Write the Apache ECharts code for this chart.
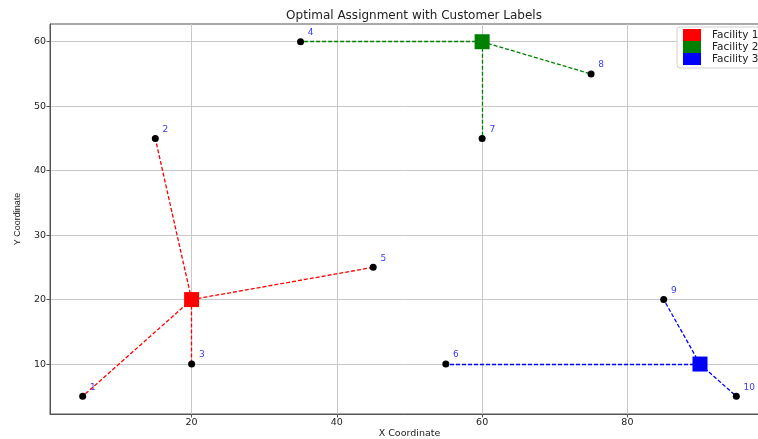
<!DOCTYPE html>
<html>
<head>
<meta charset="utf-8">
<script src="https://cdn.jsdelivr.net/npm/echarts@6/dist/echarts.min.js"></script>
<style>html,body{margin:0;padding:0;background:#fff}#chart{width:758px;height:439px}</style>
</head>
<body>
<div id="chart"></div>
<script>
const customerIds = [1, 2, 3, 4, 5, 6, 7, 8, 9, 10];
const customerX = [5, 15, 20, 35, 45, 55, 60, 75, 85, 95];
const customerY = [5, 45, 10, 60, 25, 10, 45, 55, 20, 5];
const facilityNames = ['Facility 1', 'Facility 2', 'Facility 3'];
const facilityX = [20, 60, 90];
const facilityY = [20, 60, 10];
const assignment = [0, 0, 0, 1, 0, 2, 1, 1, 2, 2];
const facilityColors = ['#ff0000', '#008000', '#0000ff'];
const xTicks = [20, 40, 60, 80];
const yTicks = [10, 20, 30, 40, 50, 60];

const FONT = 'DejaVu Sans';
const chart = echarts.init(document.getElementById('chart'), null, {renderer: 'canvas'});

const series = [];
series.push({
  name: 'Labels', type: 'scatter', z: 1, symbolSize: 0, silent: true,
  data: customerIds.map((id, i) => [customerX[i] + 1, customerY[i] + 1, id]),
  label: {
    show: true, position: [0, 0], align: 'left', verticalAlign: 'bottom', offset: [0, 2],
    formatter: p => String(p.value[2]), color: '#0000ff', fontSize: 9, fontFamily: FONT
  }
});
facilityNames.forEach((name, f) => {
  const segs = [];
  customerIds.forEach((id, i) => {
    if (assignment[i] === f) segs.push({coords: [[facilityX[f], facilityY[f]], [customerX[i], customerY[i]]]});
  });
  series.push({
    name: name + ' links', type: 'lines', coordinateSystem: 'cartesian2d', z: 2,
    data: segs, silent: true,
    lineStyle: {color: facilityColors[f], width: 1.3, type: [4, 2], opacity: 1, curveness: 0}
  });
});
series.push({
  name: 'Customers', type: 'scatter', z: 3, symbol: 'circle', symbolSize: 7,
  itemStyle: {color: '#000', opacity: 1},
  data: customerIds.map((id, i) => [customerX[i], customerY[i]])
});
facilityNames.forEach((name, f) => {
  series.push({
    name: name, type: 'scatter', z: 4, symbol: 'rect', symbolSize: 15,
    itemStyle: {color: facilityColors[f], opacity: 1},
    data: [[facilityX[f], facilityY[f]]]
  });
});

chart.setOption({
  animation: false,
  backgroundColor: '#fff',
  title: {
    text: 'Optimal Assignment with Customer Labels', left: 409, top: 5, textAlign: 'center',
    textStyle: {fontFamily: FONT, fontSize: 12, fontWeight: 'normal', color: '#222'}
  },
  legend: {
    data: facilityNames, orient: 'vertical', left: 677, top: 27, itemGap: 0,
    itemWidth: 18, itemHeight: 12, icon: 'rect',
    padding: [2, 6, 3, 6], backgroundColor: '#fff', borderColor: '#d0d0d0', borderWidth: 1, borderRadius: 3,
    textStyle: {fontFamily: FONT, fontSize: 10.5, color: '#222', padding: [0, 0, 0, 6]}
  },
  grid: {left: 50, top: 24, width: 719, height: 390, show: true, borderColor: '#555', borderWidth: 1,
         containLabel: false, outerBoundsMode: 'none'},
  xAxis: {
    type: 'value', min: 0.5, max: 99.5,
    name: 'X Coordinate', nameLocation: 'middle', nameGap: 15, nameMoveOverlap: false,
    nameTextStyle: {fontFamily: FONT, fontSize: 9.5, color: '#222'},
    axisLine: {show: true, lineStyle: {color: '#555'}},
    axisTick: {show: true, length: 3.5, customValues: xTicks, lineStyle: {color: '#555'}},
    axisLabel: {customValues: xTicks, fontFamily: FONT, fontSize: 9.5, color: '#222', margin: 4},
    splitLine: {show: true, lineStyle: {color: '#c8c8c8', width: 1}}
  },
  yAxis: {
    type: 'value', min: 2.25, max: 62.75,
    name: 'Y Coordinate', nameLocation: 'middle', nameGap: 28, nameMoveOverlap: false,
    nameTextStyle: {fontFamily: 'Liberation Sans', fontSize: 9, color: '#222'},
    axisLine: {show: true, lineStyle: {color: '#555'}},
    axisTick: {show: true, length: 3.5, customValues: yTicks, lineStyle: {color: '#555'}},
    axisLabel: {customValues: yTicks, fontFamily: FONT, fontSize: 9.5, color: '#222', margin: 4},
    splitLine: {show: true, lineStyle: {color: '#c8c8c8', width: 1}}
  },
  series: series
});
</script>
</body>
</html>
